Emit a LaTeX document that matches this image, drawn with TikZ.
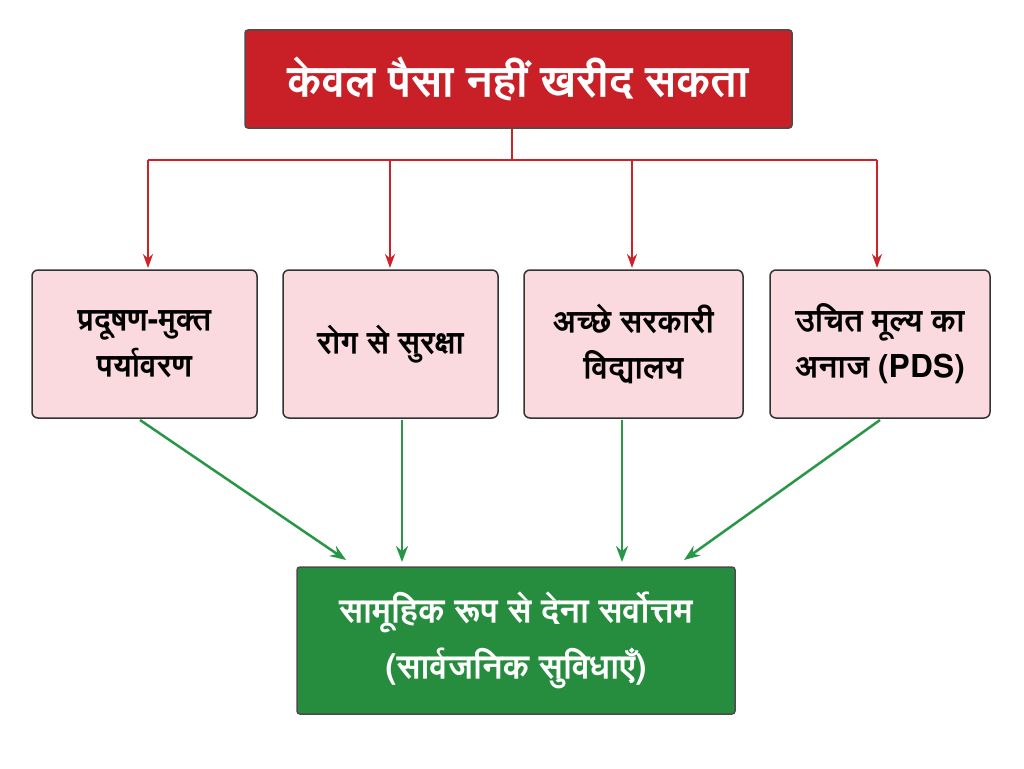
\documentclass[tikz,border=0pt]{standalone}
\usepackage{fontspec}
\newfontfamily\deva[Script=Devanagari]{FreeSans}
\usetikzlibrary{arrows.meta,positioning}
\definecolor{topred}{RGB}{200,32,38}
\definecolor{boxpink}{RGB}{250,218,222}
\definecolor{botgreen}{RGB}{38,140,62}
\definecolor{linered}{RGB}{205,35,40}
\definecolor{linegreen}{RGB}{40,150,70}
\tikzset{every picture/.style={line width=0.75pt}}
\tikzset{
  head/.style={draw=black!70,line width=1.5pt,fill=topred,rounded corners=3pt,minimum width=547pt,minimum height=98pt,text=white,font=\deva\bfseries\fontsize{44}{50}\selectfont},
  item/.style={draw=black!80,line width=1.5pt,fill=boxpink,rounded corners=6pt,minimum height=148pt,align=center,font=\deva\bfseries\fontsize{31.5}{46}\selectfont},
  foot/.style={draw=black!70,line width=1.5pt,fill=botgreen,rounded corners=3pt,minimum width=438pt,minimum height=147pt,align=center,text=white,font=\deva\bfseries\fontsize{34}{56}\selectfont},
  redarr/.style={draw=linered,line width=2.5pt,-{Stealth[length=14pt,width=10pt]}},
  greenarr/.style={draw=linegreen,line width=2.5pt,-{Stealth[length=16pt,width=12pt]}}
}
\begin{document}
\begin{tikzpicture}[x=1pt,y=-1pt]
\useasboundingbox (0,0) rectangle (1024,768);
% top
\node[head] (top) at (518.5,79) {केवल पैसा नहीं खरीद सकता};
% items
\node[item,minimum width=225pt] (b1) at (144.5,344) {प्रदूषण-मुक्त\\पर्यावरण};
\node[item,minimum width=215pt] (b2) at (390.5,344) {रोग से सुरक्षा};
\node[item,minimum width=219pt] (b3) at (633.5,344) {अच्छे सरकारी\\विद्यालय};
\node[item,minimum width=220pt] (b4) at (880,344) {उचित मूल्य का\\अनाज (PDS)};
% bottom
\node[foot] (bot) at (516,640.5) {सामूहिक रूप से देना सर्वोत्तम\\(सार्वजनिक सुविधाएँ)};
% red tree
\coordinate (split) at (512,160);
\draw[draw=linered,line width=2.5pt] (top.south -| split) -- (split);
\draw[draw=linered,line width=2.5pt] (148,160) -- (877,160);
\foreach \n/\xx in {b1/148,b2/390,b3/632,b4/877}
  \draw[redarr] (\xx,160) -- (\xx,268);
% green arrows
\draw[greenarr] (140,420) -- (346,560);
\draw[greenarr] (402,420) -- (402,562);
\draw[greenarr] (622,420) -- (622,562);
\draw[greenarr] (880,420) -- (684,560);
\end{tikzpicture}
\end{document}
